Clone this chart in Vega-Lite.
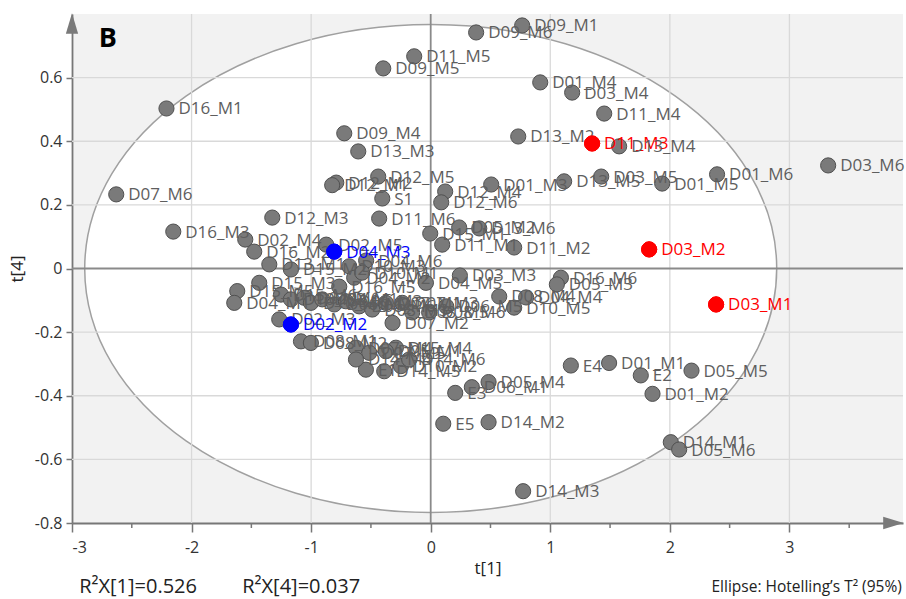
{
"$schema": "https://vega.github.io/schema/vega-lite/v6.json",
"width": 831, "height": 509,
"autosize": {"type": "none"},
"padding": {"left": 72, "top": 14, "right": 3, "bottom": 76},
"background": "#ffffff",
"config": {"view": {"stroke": null, "fill": "#f2f2f2"}, "font": "Open Sans"},
"datasets": {
"pts": [
{"id":"D16_M1","x":-2.21,"y":0.503,"set":"A"},
{"id":"D09_M6","x":0.38,"y":0.742,"set":"A"},
{"id":"D09_M1","x":0.765,"y":0.764,"set":"A"},
{"id":"D11_M5","x":-0.138,"y":0.667,"set":"A"},
{"id":"D09_M5","x":-0.397,"y":0.629,"set":"A"},
{"id":"D01_M4","x":0.916,"y":0.585,"set":"A"},
{"id":"D03_M4","x":1.183,"y":0.553,"set":"A"},
{"id":"D11_M4","x":1.451,"y":0.487,"set":"A"},
{"id":"D09_M4","x":-0.723,"y":0.425,"set":"A"},
{"id":"D13_M3","x":-0.606,"y":0.368,"set":"A"},
{"id":"D13_M2","x":0.732,"y":0.415,"set":"A"},
{"id":"D11_M3","x":1.35,"y":0.393,"set":"B"},
{"id":"D13_M4","x":1.576,"y":0.384,"set":"A"},
{"id":"D03_M6","x":3.324,"y":0.324,"set":"A"},
{"id":"D01_M6","x":2.395,"y":0.296,"set":"A"},
{"id":"D03_M5","x":1.426,"y":0.289,"set":"A"},
{"id":"D13_M5","x":1.116,"y":0.274,"set":"A"},
{"id":"D01_M5","x":1.936,"y":0.267,"set":"A"},
{"id":"D01_M3","x":0.506,"y":0.264,"set":"A"},
{"id":"D12_M4","x":0.121,"y":0.242,"set":"A"},
{"id":"D12_M6","x":0.088,"y":0.208,"set":"A"},
{"id":"S1","x":-0.405,"y":0.22,"set":"A"},
{"id":"D11_M6","x":-0.431,"y":0.157,"set":"A"},
{"id":"D12_M5","x":-0.439,"y":0.289,"set":"A"},
{"id":"D12_M2","x":-0.79,"y":0.27,"set":"A"},
{"id":"D12_M1","x":-0.824,"y":0.262,"set":"A"},
{"id":"D07_M6","x":-2.63,"y":0.233,"set":"A"},
{"id":"D16_M3","x":-2.153,"y":0.116,"set":"A"},
{"id":"D12_M3","x":-1.325,"y":0.16,"set":"A"},
{"id":"D02_M4","x":-1.551,"y":0.091,"set":"A"},
{"id":"D16_M2","x":-1.476,"y":0.053,"set":"A"},
{"id":"D02_M5","x":-0.874,"y":0.075,"set":"A"},
{"id":"D04_M3","x":-0.807,"y":0.053,"set":"C"},
{"id":"D15_M1","x":-0.004,"y":0.11,"set":"A"},
{"id":"D11_M1","x":0.096,"y":0.075,"set":"A"},
{"id":"D05_M2","x":0.238,"y":0.129,"set":"A"},
{"id":"D13_M6","x":0.406,"y":0.126,"set":"A"},
{"id":"D11_M2","x":0.698,"y":0.066,"set":"A"},
{"id":"D03_M2","x":1.827,"y":0.06,"set":"B"},
{"id":"D03_M1","x":2.387,"y":-0.113,"set":"B"},
{"id":"D16_M6","x":1.089,"y":-0.029,"set":"A"},
{"id":"D05_M3","x":1.055,"y":-0.05,"set":"A"},
{"id":"D08_M4","x":0.573,"y":-0.088,"set":"A"},
{"id":"D04_M4","x":0.798,"y":-0.091,"set":"A"},
{"id":"D10_M5","x":0.698,"y":-0.123,"set":"A"},
{"id":"D04_M5","x":-0.04,"y":-0.045,"set":"A"},
{"id":"D03_M3","x":0.244,"y":-0.022,"set":"A"},
{"id":"D04_M6","x":-0.54,"y":0.025,"set":"A"},
{"id":"D10_M3","x":-0.681,"y":0.007,"set":"A"},
{"id":"D04_M2","x":-0.64,"y":-0.029,"set":"A"},
{"id":"D10_M1","x":-0.573,"y":-0.013,"set":"A"},
{"id":"D16_M5","x":-0.765,"y":-0.057,"set":"A"},
{"id":"D06_M5","x":0.13,"y":-0.119,"set":"A"},
{"id":"D08_M6","x":-0.013,"y":-0.138,"set":"A"},
{"id":"D08_M5","x":-0.155,"y":-0.138,"set":"A"},
{"id":"D07_M2","x":-0.319,"y":-0.171,"set":"A"},
{"id":"E4","x":1.172,"y":-0.305,"set":"A"},
{"id":"D01_M1","x":1.492,"y":-0.297,"set":"A"},
{"id":"E2","x":1.757,"y":-0.336,"set":"A"},
{"id":"D05_M5","x":2.181,"y":-0.321,"set":"A"},
{"id":"D01_M2","x":1.855,"y":-0.394,"set":"A"},
{"id":"D14_M1","x":2.008,"y":-0.546,"set":"A"},
{"id":"D05_M6","x":2.078,"y":-0.569,"set":"A"},
{"id":"D14_M3","x":0.773,"y":-0.7,"set":"A"},
{"id":"E5","x":0.105,"y":-0.488,"set":"A"},
{"id":"D14_M2","x":0.484,"y":-0.483,"set":"A"},
{"id":"D05_M4","x":0.484,"y":-0.357,"set":"A"},
{"id":"D06_M1","x":0.344,"y":-0.373,"set":"A"},
{"id":"E3","x":0.205,"y":-0.391,"set":"A"},
{"id":"D14_M5","x":-0.389,"y":-0.323,"set":"A"},
{"id":"E1","x":-0.542,"y":-0.318,"set":"A"},
{"id":"D10_M2","x":-0.249,"y":-0.307,"set":"A"},
{"id":"D14_M6","x":-0.18,"y":-0.286,"set":"A"},
{"id":"D15_M4","x":-0.291,"y":-0.249,"set":"A"},
{"id":"D13_M1","x":-1.35,"y":0.013,"set":"A"},
{"id":"D15_M2","x":-1.169,"y":-0.003,"set":"A"},
{"id":"D15_M3","x":-1.434,"y":-0.045,"set":"A"},
{"id":"D15_M5","x":-1.618,"y":-0.071,"set":"A"},
{"id":"D04_M1","x":-1.643,"y":-0.108,"set":"A"},
{"id":"D15_M6","x":-1.252,"y":-0.082,"set":"A"},
{"id":"D10_M4","x":-1.169,"y":-0.097,"set":"A"},
{"id":"D02_M6","x":-1.058,"y":-0.092,"set":"A"},
{"id":"D10_M6","x":-1.002,"y":-0.108,"set":"A"},
{"id":"D02_M1","x":-0.907,"y":-0.097,"set":"A"},
{"id":"D06_M2","x":-0.807,"y":-0.113,"set":"A"},
{"id":"D06_M3","x":-0.709,"y":-0.103,"set":"A"},
{"id":"D06_M6","x":-0.598,"y":-0.119,"set":"A"},
{"id":"D08_M3","x":-0.489,"y":-0.129,"set":"A"},
{"id":"D07_M1","x":-0.375,"y":-0.108,"set":"A"},
{"id":"D07_M3","x":-0.238,"y":-0.108,"set":"A"},
{"id":"D02_M3","x":-1.267,"y":-0.16,"set":"A"},
{"id":"D02_M2","x":-1.169,"y":-0.176,"set":"C"},
{"id":"D08_M1","x":-1.085,"y":-0.229,"set":"A"},
{"id":"D08_M2","x":-1.002,"y":-0.234,"set":"A"},
{"id":"D07_M4","x":-0.625,"y":-0.249,"set":"A"},
{"id":"D07_M5","x":-0.514,"y":-0.265,"set":"A"},
{"id":"D05_M1","x":-0.375,"y":-0.26,"set":"A"},
{"id":"D14_M4","x":-0.625,"y":-0.286,"set":"A"}
],
"gx": [{"x":-2},{"x":-1},{"x":1},{"x":2},{"x":3}],
"gy": [{"y":-0.6},{"y":-0.4},{"y":-0.2},{"y":0.2},{"y":0.4},{"y":0.6}],
"zx": [{"x":0}],
"zy": [{"y":0}],
"mx": [{"x":-2.5},{"x":-1.5},{"x":-0.5},{"x":0.5},{"x":1.5},{"x":2.5},{"x":3.5}]
},
"layer": [
{"data": {"name": "pts"},
 "mark": {"type": "circle", "size": 0, "opacity": 0},
 "encoding": {
  "x": {"field": "x", "type": "quantitative", "scale": {"domain": [-3, 3.95], "nice": false, "zero": false},
   "axis": {"title": "t[1]", "values": [-3,-2,-1,0,1,2,3], "labelExpr": "datum.value < 0 ? '-' + (-datum.value) : '' + datum.value", "labelOverlap": false, "grid": false, "domainColor": "#777777", "domainWidth": 1.8, "tickColor": "#777777", "tickWidth": 1.5, "tickSize": 9, "labelFontSize": 16, "labelColor": "#333333", "labelPadding": 7, "titleFontSize": 17, "titleFontWeight": "normal", "titleColor": "#222222", "titlePadding": 5}},
  "y": {"field": "y", "type": "quantitative", "scale": {"domain": [-0.8, 0.8], "nice": false, "zero": false},
   "axis": {"title": "t[4]", "values": [-0.8,-0.7,-0.6,-0.5,-0.4,-0.3,-0.2,-0.1,0,0.1,0.2,0.3,0.4,0.5,0.6,0.7], "labelExpr": "abs(round(datum.value*10)) % 2 == 0 ? (datum.value < 0 ? '-' + format(-datum.value, '.1~f') : format(datum.value, '.1~f')) : ''", "labelOverlap": false, "grid": false, "domainColor": "#777777", "domainWidth": 1.8, "tickColor": "#777777", "tickWidth": 1.5, "tickSize": 6, "labelFontSize": 16, "labelColor": "#333333", "labelPadding": 4, "titleFontSize": 17, "titleFontWeight": "normal", "titleColor": "#222222", "titlePadding": 8}}
 }},
{"data": {"values": [{}]},
 "mark": {"type": "point", "shape": "M-1,0A1,0.705,0,1,1,1,0A1,0.705,0,1,1,-1,0Z", "filled": true, "fill": "#ffffff", "stroke": "#a0a0a0", "strokeWidth": 1.5, "size": 478864, "opacity": 1},
 "encoding": {"x": {"datum": 0, "type": "quantitative"}, "y": {"datum": 0, "type": "quantitative"}}},
{"data": {"name": "gx"}, "mark": {"type": "rule", "color": "#d9d9d9", "strokeWidth": 1.3},
 "encoding": {"x": {"field": "x", "type": "quantitative"}}},
{"data": {"name": "gy"}, "mark": {"type": "rule", "color": "#d9d9d9", "strokeWidth": 1.3},
 "encoding": {"y": {"field": "y", "type": "quantitative"}}},
{"data": {"name": "zx"}, "mark": {"type": "rule", "color": "#8a8a8a", "strokeWidth": 1.8},
 "encoding": {"x": {"field": "x", "type": "quantitative"}}},
{"data": {"name": "zy"}, "mark": {"type": "rule", "color": "#8a8a8a", "strokeWidth": 1.8},
 "encoding": {"y": {"field": "y", "type": "quantitative"}}},
{"data": {"name": "mx"}, "mark": {"type": "tick", "orient": "vertical", "size": 5, "thickness": 1.5, "color": "#777777", "yOffset": 2.5, "opacity": 1},
 "encoding": {"x": {"field": "x", "type": "quantitative"}, "y": {"datum": -0.8, "type": "quantitative"}}},
{"data": {"name": "pts"},
 "mark": {"type": "circle", "size": 230, "opacity": 1, "strokeWidth": 1},
 "encoding": {
  "x": {"field": "x", "type": "quantitative"},
  "y": {"field": "y", "type": "quantitative"},
  "fill": {"field": "set", "type": "nominal", "scale": {"domain": ["A","B","C"], "range": ["#7a7a7a","#ff0000","#0000ff"]}, "legend": null},
  "stroke": {"field": "set", "type": "nominal", "scale": {"domain": ["A","B","C"], "range": ["#505050","#ff0000","#0000ff"]}, "legend": null}
 }},
{"data": {"name": "pts"},
 "mark": {"type": "text", "align": "left", "baseline": "middle", "dx": 12, "dy": 1, "fontSize": 17},
 "encoding": {
  "x": {"field": "x", "type": "quantitative"},
  "y": {"field": "y", "type": "quantitative"},
  "text": {"field": "id"},
  "color": {"field": "set", "type": "nominal", "scale": {"domain": ["A","B","C"], "range": ["#5e5e5e","#ff0000","#0000ff"]}, "legend": null}
 }},
{"data": {"name": "pts"}, "transform": [{"filter": "datum.set != 'A'"}],
 "mark": {"type": "circle", "size": 230, "opacity": 1, "strokeWidth": 1},
 "encoding": {
  "x": {"field": "x", "type": "quantitative"},
  "y": {"field": "y", "type": "quantitative"},
  "fill": {"field": "set", "type": "nominal", "legend": null},
  "stroke": {"field": "set", "type": "nominal", "legend": null}
 }},
{"data": {"values": [{}]},
 "mark": {"type": "point", "shape": "M-0.6,1L0,-1L0.6,1Z", "filled": true, "fill": "#7a7a7a", "size": 420, "opacity": 1},
 "encoding": {"x": {"datum": -3, "type": "quantitative"}, "y": {"datum": 0.77, "type": "quantitative"}}},
{"data": {"values": [{}]},
 "mark": {"type": "point", "shape": "M-1,-0.6L1,0L-1,0.6Z", "filled": true, "fill": "#7a7a7a", "size": 420, "opacity": 1},
 "encoding": {"x": {"datum": 3.87, "type": "quantitative"}, "y": {"datum": -0.8, "type": "quantitative"}}},
{"data": {"values": [{}]},
 "mark": {"type": "text", "text": "B", "fontSize": 27, "fontWeight": "bold", "align": "center", "baseline": "middle", "color": "#000000"},
 "encoding": {"x": {"datum": -2.7, "type": "quantitative"}, "y": {"datum": 0.72, "type": "quantitative"}}},
{"data": {"values": [{}]},
 "mark": {"type": "text", "text": "R²X[1]=0.526", "fontSize": 20, "align": "left", "baseline": "middle", "color": "#222222"},
 "encoding": {"x": {"datum": -2.94, "type": "quantitative"}, "y": {"datum": -1.0, "type": "quantitative"}}},
{"data": {"values": [{}]},
 "mark": {"type": "text", "text": "R²X[4]=0.037", "fontSize": 20, "align": "left", "baseline": "middle", "color": "#222222"},
 "encoding": {"x": {"datum": -1.576, "type": "quantitative"}, "y": {"datum": -1.0, "type": "quantitative"}}},
{"data": {"values": [{}]},
 "mark": {"type": "text", "text": "Ellipse: Hotelling’s T² (95%)", "fontSize": 15.5, "align": "right", "baseline": "middle", "color": "#222222"},
 "encoding": {"x": {"datum": 3.94, "type": "quantitative"}, "y": {"datum": -1.0, "type": "quantitative"}}}
]
}
